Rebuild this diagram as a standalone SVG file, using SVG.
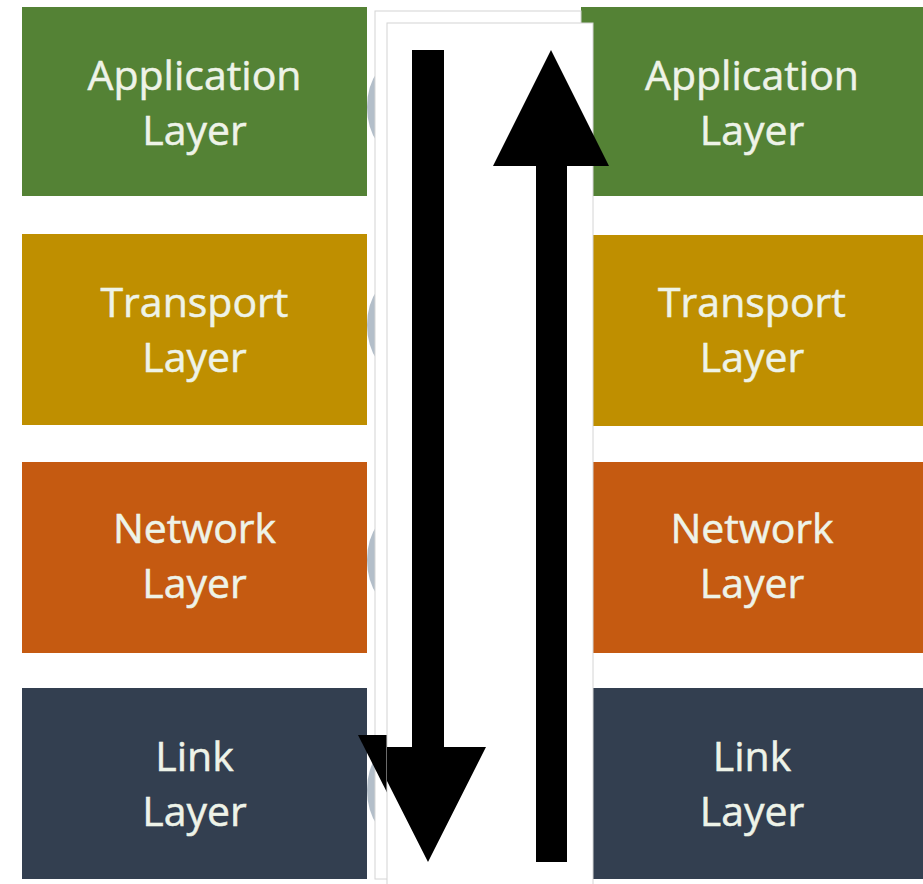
<svg xmlns="http://www.w3.org/2000/svg" width="923" height="884" viewBox="0 0 923 884">
<style>
.lbl{font-family:"Open Sans","DejaVu Sans",sans-serif;font-size:41px;text-anchor:middle;fill:#EEF3E8;stroke:#EEF3E8;stroke-width:0.5}
.app{fill:#548235}.tra{fill:#BF8F00}.net{fill:#C55A11}.lnk{fill:#333F50}
.tab{fill:#B3BEC9}
.panel{fill:#FFFFFF;stroke:#D4D4D4;stroke-width:1}
.ar{fill:#000000}
</style>
<rect width="923" height="884" fill="#FFFFFF"/>
<g id="left-application"><rect class="app" x="22" y="7" width="345" height="189"/><text class="lbl" x="194.5" y="90">Application</text><text class="lbl" x="194.5" y="145">Layer</text></g>
<g id="left-transport"><rect class="tra" x="22" y="234" width="345" height="191"/><text class="lbl" x="194.5" y="317">Transport</text><text class="lbl" x="194.5" y="372">Layer</text></g>
<g id="left-network"><rect class="net" x="22" y="462" width="345" height="191"/><text class="lbl" x="194.5" y="543">Network</text><text class="lbl" x="194.5" y="598">Layer</text></g>
<g id="left-link"><rect class="lnk" x="22" y="688" width="345" height="191"/><text class="lbl" x="194.5" y="771">Link</text><text class="lbl" x="194.5" y="826">Layer</text></g>
<g id="right-application"><rect class="app" x="581" y="7" width="342" height="189"/><text class="lbl" x="752" y="90">Application</text><text class="lbl" x="752" y="145">Layer</text></g>
<g id="right-transport"><rect class="tra" x="581" y="235" width="342" height="191"/><text class="lbl" x="752" y="317">Transport</text><text class="lbl" x="752" y="372">Layer</text></g>
<g id="right-network"><rect class="net" x="581" y="462" width="342" height="191"/><text class="lbl" x="752" y="543">Network</text><text class="lbl" x="752" y="598">Layer</text></g>
<g id="right-link"><rect class="lnk" x="581" y="688" width="342" height="191"/><text class="lbl" x="752" y="771">Link</text><text class="lbl" x="752" y="826">Layer</text></g>
<g id="tabs">
<ellipse class="tab" cx="402" cy="107" rx="35" ry="50"/>
<ellipse class="tab" cx="402" cy="325" rx="35" ry="50"/>
<ellipse class="tab" cx="402" cy="560" rx="35" ry="50"/>
<ellipse class="tab" cx="402" cy="790" rx="35" ry="50"/>
</g>
<rect id="outer-panel" class="panel" x="375" y="11" width="206" height="868"/>
<polygon class="ar" points="358,735 474,735 416,850"/>
<rect id="inner-panel" class="panel" x="387" y="23" width="206" height="870"/>
<g id="connectors">
<polygon id="down-arrow" class="ar" points="412,50 444,50 444,747 486,747 428,862 387,781 387,747 412,747"/>
<polygon id="up-arrow" class="ar" points="551,50 609,166 567,166 567,862 536,862 536,166 493,166"/>
</g>
</svg>
